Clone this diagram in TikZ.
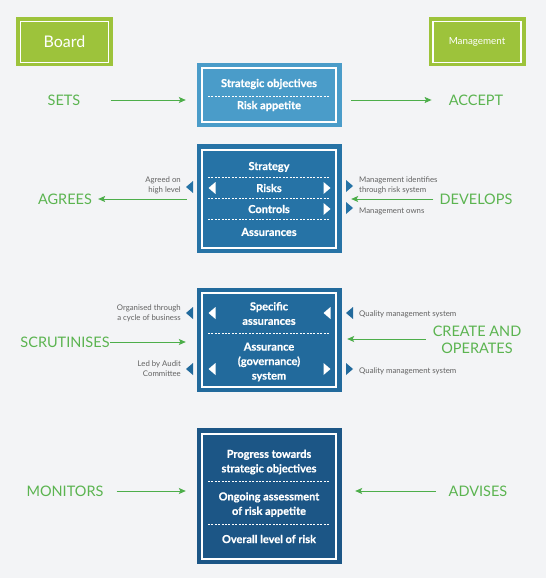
\documentclass[tikz,border=0pt]{standalone}
\usepackage{fontspec}
\setmainfont{Lato}
\newfontfamily\heavyfont[BoldFeatures={FakeBold=0.7}]{Lato}
\usetikzlibrary{arrows.meta}
\definecolor{bg}{HTML}{F3F4F6}
\definecolor{lime}{HTML}{9DC33B}
\definecolor{gtext}{HTML}{5BB450}
\definecolor{garr}{HTML}{4DAE4A}
\definecolor{boxa}{HTML}{4A9CC9}
\definecolor{boxb}{HTML}{2673A6}
\definecolor{boxc}{HTML}{226A9C}
\definecolor{boxd}{HTML}{1C5686}
\definecolor{gray}{HTML}{626262}
\tikzset{
  rolebox/.style={fill=lime, draw=none, minimum width=97pt, minimum height=49pt, inner sep=0pt},
  roleframe/.style={draw=white, line width=1.2pt, minimum width=88pt, minimum height=41pt, inner sep=0pt, text=white},
  outerbox/.style={fill=#1, draw=none, minimum width=145pt, inner sep=0pt},
  innerframe/.style={draw=white, line width=1.5pt, minimum width=134pt, inner sep=0pt},
  boxtxt/.style={text=white, font=\fontsize{11}{14.5}\heavyfont\bfseries, align=center, inner sep=0pt},
  glabel/.style={text=gtext, font=\fontsize{14.5}{17}\selectfont, align=center, inner sep=0pt},
  smalll/.style={text=gray, font=\fontsize{7.8}{10}\selectfont, align=left, inner sep=0pt, anchor=west},
  smallr/.style={text=gray, font=\fontsize{7.8}{10}\selectfont, align=right, inner sep=0pt, anchor=east},
  garrow/.style={draw=garr, line width=0.9pt, -{Stealth[length=7pt,width=6pt,inset=1.5pt]}},
  sep/.style={draw=white, line width=0.6pt, dash pattern=on 2pt off 1.4pt},
}
\newcommand\trileft[3]{\fill[#3] (#1+3.5,#2-6) -- (#1-3.5,#2) -- (#1+3.5,#2+6) -- cycle;}
\newcommand\triright[3]{\fill[#3] (#1-3.5,#2-6) -- (#1+3.5,#2) -- (#1-3.5,#2+6) -- cycle;}
\begin{document}
\begin{tikzpicture}[x=1pt,y=-1pt]
\useasboundingbox (0,0) rectangle (546,578);
\fill[bg] (0,0) rectangle (546,578);

% role boxes
\node[rolebox] (board) at (64.5,42) {};
\node[roleframe, font=\fontsize{16}{18}\selectfont] (boardi) at (board) {Board};
\node[rolebox] (mgmt) at (477,42) {};
\node[roleframe, font=\fontsize{9.8}{11}\selectfont] (mgmti) at (mgmt) {Management};

% box 1
\node[outerbox=boxa, minimum height=64pt] (b1) at (269.5,95) {};
\node[innerframe, minimum height=54pt] (b1i) at (269,95) {};
\node[boxtxt] (t11) at (269,84) {Strategic objectives};
\draw[sep] (208,96) -- (330,96);
\node[boxtxt] (t12) at (269,106) {Risk appetite};

% box 2
\node[outerbox=boxb, minimum height=109pt] (b2) at (269.5,198.5) {};
\node[innerframe, minimum height=98pt] (b2i) at (269,199) {};
\node[boxtxt] (t21) at (269,167) {Strategy};
\draw[sep] (208,177.5) -- (330,177.5);
\node[boxtxt] (t22) at (269,188) {Risks};
\draw[sep] (208,198.5) -- (330,198.5);
\node[boxtxt] (t23) at (269,209) {Controls};
\draw[sep] (208,219) -- (330,219);
\node[boxtxt] (t24) at (269,232) {Assurances};
\trileft{212}{188}{white}
\triright{327}{188}{white}
\triright{327}{209}{white}
\trileft{189.5}{187}{boxb}
\triright{349.5}{186}{boxb}
\triright{349.5}{208}{boxb}

% box 3
\node[outerbox=boxc, minimum height=104pt] (b3) at (269.5,340) {};
\node[innerframe, minimum height=94pt] (b3i) at (269,340) {};
\node[boxtxt] (t31) at (269,313.5) {Specific\\assurances};
\draw[sep] (208,333) -- (330,333);
\node[boxtxt] (t32) at (269,362) {Assurance\\(governance)\\system};
\trileft{212}{313}{white}
\trileft{327}{313}{white}
\trileft{212}{369}{white}
\triright{327}{369}{white}
\trileft{189.5}{313}{boxc}
\trileft{189.5}{369}{boxc}
\trileft{349.5}{313}{boxc}
\triright{349.5}{369}{boxc}

% box 4
\node[outerbox=boxd, minimum height=136pt] (b4) at (269.5,496) {};
\node[innerframe, minimum height=125pt] (b4i) at (269,496.5) {};
\node[boxtxt] (t41) at (269,462) {Progress towards\\strategic objectives};
\draw[sep] (208,481) -- (330,481);
\node[boxtxt] (t42) at (269,504.5) {Ongoing assessment\\of risk appetite};
\draw[sep] (208,524) -- (330,524);
\node[boxtxt] (t43) at (269,539) {Overall level of risk};

% green labels
\node[glabel] (sets) at (64,100) {SETS};
\node[glabel] (accept) at (476,100) {ACCEPT};
\node[glabel] (agrees) at (65,199) {AGREES};
\node[glabel] (develops) at (476,199) {DEVELOPS};
\node[glabel] (scrut) at (65,342) {SCRUTINISES};
\node[glabel] (create) at (477,340) {CREATE AND\\OPERATES};
\node[glabel] (monitors) at (65,491) {MONITORS};
\node[glabel] (advises) at (478,491) {ADVISES};

% arrows
\draw[garrow, shorten <=30pt, shorten >=11pt] (sets.east) -- (sets.east -| b1.west);
\draw[garrow, shorten <=9pt, shorten >=17pt] (b1.east |- accept.west) -- (accept.west);
\draw[garrow, shorten <=10pt, shorten >=6pt] (b2.west |- agrees.east) -- (agrees.east);
\draw[garrow, shorten <=6pt, shorten >=9pt] (develops.west) -- (develops.west -| b2.east);
\draw[garrow, shorten <=0pt, shorten >=11pt] (scrut.east) -- (scrut.east -| b3.west);
\draw[garrow, shorten <=7pt, shorten >=5pt] ([yshift=1pt]create.west) -- ([yshift=1pt]create.west -| b3.east);
\draw[garrow, shorten <=13pt, shorten >=11pt] (monitors.east) -- (monitors.east -| b4.west);
\draw[garrow, shorten <=13pt, shorten >=13pt] (advises.west) -- (advises.west -| b4.east);

% gray notes
\node[smallr] (n1) at (181,185.5) {Agreed on\\high level};
\node[smalll] (n2) at (359,185) {Management identifies\\through risk system};
\node[smalll] (n3) at (359,211) {Management owns};
\node[smallr] (n4) at (181,313) {Organised through\\a cycle of business};
\node[smallr] (n5) at (181,369) {Led by Audit\\Committee};
\node[smalll] (n6) at (359,314) {Quality management system};
\node[smalll] (n7) at (359,371) {Quality management system};
\end{tikzpicture}
\end{document}
